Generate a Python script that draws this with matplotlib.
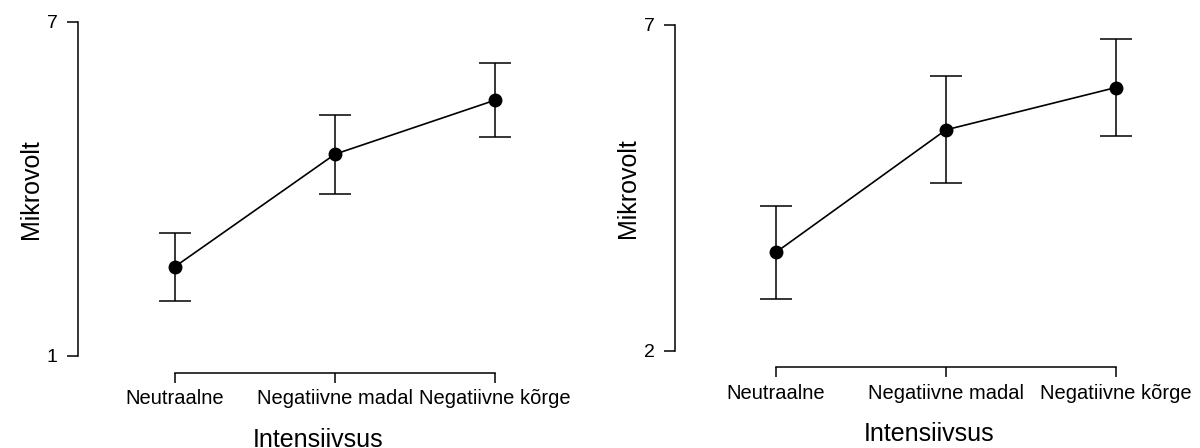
import numpy as np
import matplotlib.pyplot as plt

# ── Datos ─────────────────────────────────────────────────────────────────────
categorias = ["Neutraalne", "Negatiivne madal", "Negatiivne kõrge"]

media_izq = [2.60, 4.62, 5.59]
error_izq = [0.61, 0.71, 0.66]

media_der = [3.51, 5.39, 6.04]
error_der = [0.71, 0.82, 0.75]

NEGRO = "black"

plt.rcParams.update({
    "font.family": ["Liberation Sans", "DejaVu Sans"],
    "axes.linewidth": 1.1,
    "xtick.major.width": 1.1,
    "ytick.major.width": 1.1,
})

fig = plt.figure(figsize=(12, 4.48), dpi=100)

# posiciones de los ejes en fracciones de la figura
ax1 = fig.add_axes([0.065, 0.206, 0.4008, 0.7455])
ax2 = fig.add_axes([0.5625, 0.2172, 0.424, 0.727])


def panel(ax, medias, errores, ylim, xmin, offset_px):
    x = np.arange(len(categorias))
    ax.errorbar(x, medias, yerr=errores, color=NEGRO, fmt="-o",
                markersize=9, linewidth=1.2, elinewidth=1.1,
                capsize=11.5, capthick=1.1, clip_on=False, zorder=3)
    ax.set_xlim(xmin, 2.4)
    ax.set_ylim(*ylim)
    for lado in ("top", "right"):
        ax.spines[lado].set_visible(False)
    ax.spines["left"].set_bounds(*ylim)
    ax.spines["bottom"].set_bounds(0, 2)
    ax.spines["bottom"].set_position(("outward", offset_px * 0.72))
    ax.set_yticks(list(ylim))
    ax.set_yticklabels([str(v) for v in ylim], fontsize=14)
    ax.set_xticks(x)
    ax.set_xticklabels(categorias, fontsize=14.5)
    ax.tick_params(axis="y", length=8, pad=6.5)
    ax.tick_params(axis="x", length=7, pad=5)
    ax.set_ylabel("Mikrovolt", fontsize=18, labelpad=3)
    ax.set_xlabel("Intensiivsus", fontsize=18, labelpad=14)


panel(ax1, media_izq, error_izq, (1, 7), -0.606, 17)
panel(ax2, media_der, error_der, (2, 7), -0.594, 16.6)

fig.savefig("out.png", dpi=100)
